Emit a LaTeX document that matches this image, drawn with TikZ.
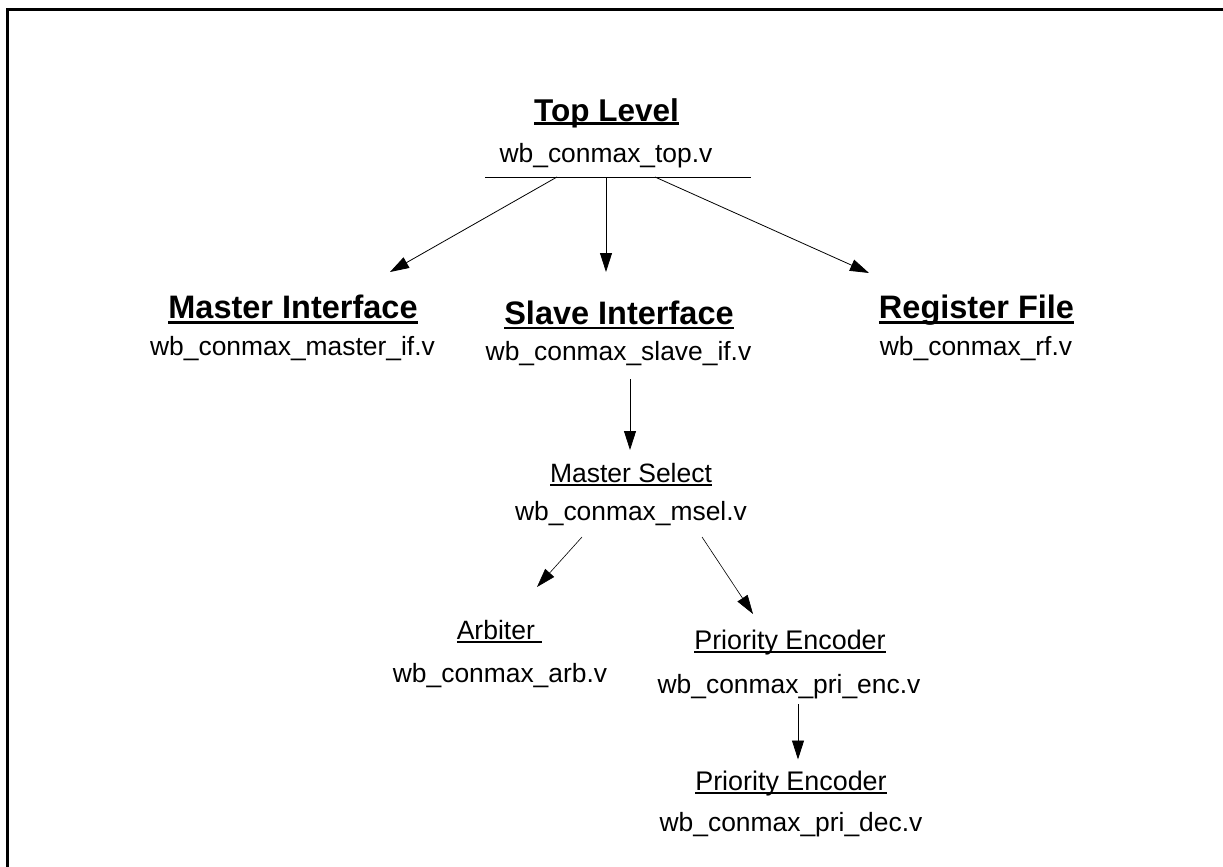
\documentclass[tikz,border=0pt]{standalone}
\usepackage{fontspec}
\setmainfont{Liberation Sans}
\usetikzlibrary{arrows.meta}
\newcommand{\myul}[3]{\setbox0=\hbox{#3}\rlap{\rule[-#1]{\wd0}{#2}}\box0}
\tikzset{
  lbl/.style={inner sep=0pt, anchor=base},
  ttl/.style={lbl, font=\fontsize{31.5}{36}\selectfont\bfseries},
  ttlb/.style={lbl, font=\fontsize{32.5}{37}\selectfont\bfseries},
  fname/.style={lbl, font=\fontsize{26.4}{31}\selectfont},
  sub/.style={lbl, font=\fontsize{26.5}{31}\selectfont},
  subb/.style={lbl, font=\fontsize{26.9}{31}\selectfont},
  arr/.style={-{Triangle[length=19pt,width=12pt]}, line width=0.8pt},
  frame/.style={line width=3pt}
}
\begin{document}
\begin{tikzpicture}[x=1pt,y=-1pt]
\useasboundingbox (0,0) rectangle (1223,867);
\clip (0,0) rectangle (1223,867);
% frame (only top and left edges visible)
\draw[frame] (7.5,900) -- (7.5,9.5) -- (1260,9.5);

% top level
\node[ttl] (top) at (606.5,121) {\myul{3.8pt}{2.5pt}{Top Level}};
\node[fname] (topf) at (606,162) {wb\_conmax\_top.v};
\coordinate (barL) at (485,177);
\coordinate (barR) at (751,177);
\draw[line width=1pt] (barL) -- (barR);
\coordinate (b1) at (557,177);
\coordinate (b2) at (606,177);
\coordinate (b3) at (655,177);

% second level
\node[ttlb] (mi) at (293,318.3) {\myul{5.2pt}{2.3pt}{Master Interface}};
\node[fname] (mif) at (292.5,355) {wb\_conmax\_master\_if.v};
\node[ttlb] (si) at (619,324) {\myul{4.9pt}{2.3pt}{Slave Interface}};
\node[fname] (sif) at (618.5,360) {wb\_conmax\_slave\_if.v};
\node[ttlb] (rf) at (976.5,318.3) {\myul{5.2pt}{2.3pt}{Register File}};
\node[fname] (rff) at (976,355) {wb\_conmax\_rf.v};

\coordinate (miT) at (390,272);
\coordinate (siT) at (606,272);
\coordinate (rfT) at (869,273);
\draw[arr] (b1) -- (miT);
\draw[arr] (b2) -- (siT);
\draw[arr] (b3) -- (rfT);

% master select
\node[sub] (ms) at (631,482.5) {\myul{3.6pt}{1.7pt}{Master Select}};
\node[fname] (msf) at (631,520.7) {wb\_conmax\_msel.v};
\coordinate (sifB) at (630,379);
\coordinate (msT) at (630,450);
\draw[arr] (sifB) -- (msT);

% arbiter & priority encoder
\node[sub] (arb) at (499.5,639.4) {\myul{3.2pt}{1.7pt}{Arbiter\ }};
\node[fname] (arbf) at (500,682) {wb\_conmax\_arb.v};
\node[subb] (pe) at (790,649.8) {\myul{3.2pt}{1.7pt}{Priority Encoder}};
\node[fname] (pef) at (789,693.6) {wb\_conmax\_pri\_enc.v};
\coordinate (msBL) at (582,537);
\coordinate (msBR) at (702,537);
\coordinate (arbT) at (537,587);
\coordinate (peT) at (753,614);
\draw[arr, line width=0.6pt] (msBL) -- (arbT);
\draw[arr, line width=0.6pt] (msBR) -- (peT);

% priority decoder
\node[subb] (pd) at (791,790.4) {\myul{3.2pt}{1.7pt}{Priority Encoder}};
\node[fname] (pdf) at (791,831) {wb\_conmax\_pri\_dec.v};
\coordinate (pefB) at (798,704);
\coordinate (pdT) at (798,759.5);
\draw[arr] (pefB) -- (pdT);
\end{tikzpicture}
\end{document}
